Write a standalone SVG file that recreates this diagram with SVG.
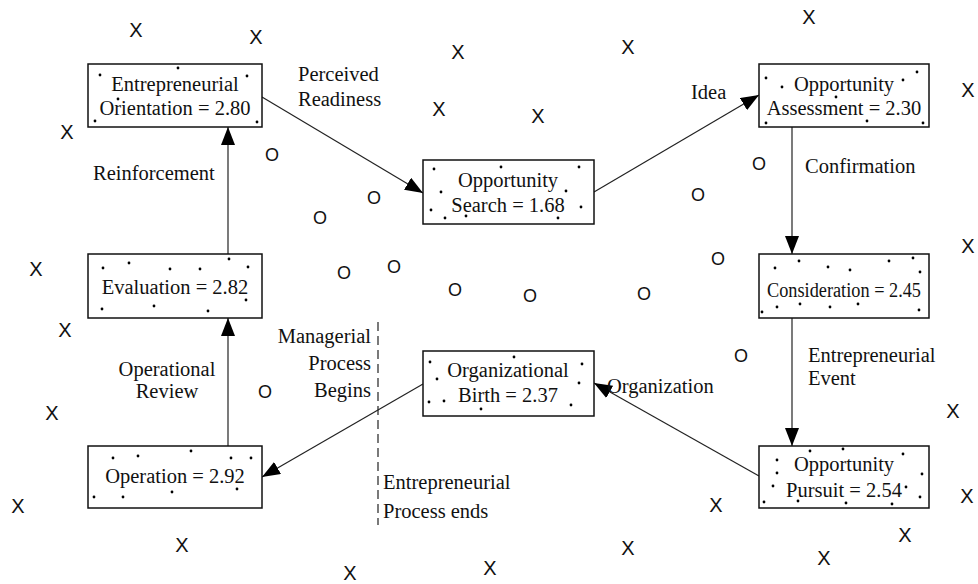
<svg xmlns="http://www.w3.org/2000/svg" width="978" height="584" viewBox="0 0 978 584">
<style>
.box{fill:#fff;stroke:#111;stroke-width:1.5}
.t{font-family:"Liberation Serif","Times New Roman",serif;font-size:20.5px;fill:#111}
.c{text-anchor:middle}
.r{text-anchor:end}
.m{font-family:"Liberation Sans",Arial,sans-serif;font-size:20px;fill:#111;text-anchor:middle}
.o{font-family:"Liberation Sans",Arial,sans-serif;font-size:18px;fill:#111;text-anchor:middle}
.d{fill:#000}
.ln{stroke:#222;stroke-width:1.2;fill:none}
</style>
<defs>
<marker id="ah" markerUnits="userSpaceOnUse" viewBox="0 0 18 14" refX="18" refY="7" markerWidth="18" markerHeight="14" orient="auto">
<path d="M0,0 L18,7 L0,14 z" fill="#000"/>
</marker>
</defs>
<rect width="978" height="584" fill="#fff"/>

<g id="marks">
<text class="m" x="136" y="37">X</text>
<text class="m" x="256" y="44">X</text>
<text class="m" x="458" y="59">X</text>
<text class="m" x="628" y="54">X</text>
<text class="m" x="809" y="24">X</text>
<text class="m" x="67" y="139">X</text>
<text class="m" x="439" y="116">X</text>
<text class="m" x="538" y="123">X</text>
<text class="m" x="968" y="97">X</text>
<text class="m" x="36" y="276">X</text>
<text class="m" x="968" y="253">X</text>
<text class="m" x="65" y="337">X</text>
<text class="m" x="52" y="420">X</text>
<text class="m" x="953" y="418">X</text>
<text class="m" x="18" y="513">X</text>
<text class="m" x="716" y="512">X</text>
<text class="m" x="967" y="503">X</text>
<text class="m" x="182" y="552">X</text>
<text class="m" x="905" y="542">X</text>
<text class="m" x="350" y="580">X</text>
<text class="m" x="490" y="575">X</text>
<text class="m" x="628" y="555">X</text>
<text class="m" x="824" y="565">X</text>
<text class="o" x="272" y="161">O</text>
<text class="o" x="374" y="204">O</text>
<text class="o" x="320" y="224">O</text>
<text class="o" x="344" y="279">O</text>
<text class="o" x="394" y="273">O</text>
<text class="o" x="455" y="296">O</text>
<text class="o" x="530" y="302">O</text>
<text class="o" x="644" y="300">O</text>
<text class="o" x="698" y="201">O</text>
<text class="o" x="759" y="170">O</text>
<text class="o" x="718" y="265">O</text>
<text class="o" x="741" y="362">O</text>
<text class="o" x="265" y="398">O</text>
</g>

<g id="connectors">
<line class="ln" x1="262" y1="97" x2="423" y2="193" marker-end="url(#ah)"/>
<line class="ln" x1="594" y1="192" x2="759" y2="95" marker-end="url(#ah)"/>
<line class="ln" x1="792" y1="127" x2="792" y2="254" marker-end="url(#ah)"/>
<line class="ln" x1="792" y1="318" x2="792" y2="446" marker-end="url(#ah)"/>
<line class="ln" x1="759" y1="476" x2="594" y2="383" marker-end="url(#ah)"/>
<line class="ln" x1="423" y1="384" x2="262" y2="477" marker-end="url(#ah)"/>
<line class="ln" x1="228" y1="446" x2="228" y2="318" marker-end="url(#ah)"/>
<line class="ln" x1="228" y1="254" x2="228" y2="127" marker-end="url(#ah)"/>
<line x1="378" y1="322" x2="378" y2="525" stroke="#222" stroke-width="1.2" stroke-dasharray="9,5"/>
</g>

<g id="labels">
<text class="t" x="298" y="81">Perceived</text>
<text class="t" x="298" y="106">Readiness</text>
<text class="t" x="691" y="99">Idea</text>
<text class="t" x="805" y="173">Confirmation</text>
<text class="t" x="808" y="362">Entrepreneurial</text>
<text class="t" x="808" y="385">Event</text>
<text class="t" x="607" y="393">Organization</text>
<text class="t" x="93" y="180">Reinforcement</text>
<text class="t c" x="167" y="376">Operational</text>
<text class="t c" x="167" y="398">Review</text>
<text class="t r" x="371" y="343">Managerial</text>
<text class="t r" x="371" y="370">Process</text>
<text class="t r" x="371" y="397">Begins</text>
<text class="t" x="383" y="489">Entrepreneurial</text>
<text class="t" x="383" y="518">Process ends</text>
</g>

<g id="n-orientation">
<rect class="box" x="88" y="64" width="174" height="63"/>
<text class="t c" x="175" y="91">Entrepreneurial</text>
<text class="t c" x="175" y="115">Orientation = 2.80</text>
<g class="d"><circle cx="100" cy="75" r="1.4"/><circle cx="178" cy="68" r="1.4"/><circle cx="247" cy="76" r="1.4"/><circle cx="118" cy="99" r="1.4"/><circle cx="95" cy="121" r="1.4"/><circle cx="257" cy="122" r="1.4"/></g>
</g>

<g id="n-search">
<rect class="box" x="423" y="160" width="171" height="64"/>
<text class="t c" x="508" y="187">Opportunity</text>
<text class="t c" x="508" y="212">Search = 1.68</text>
<g class="d"><circle cx="434" cy="169" r="1.4"/><circle cx="501" cy="167" r="1.4"/><circle cx="579" cy="167" r="1.4"/><circle cx="441" cy="192" r="1.4"/><circle cx="566" cy="191" r="1.4"/><circle cx="431" cy="210" r="1.4"/><circle cx="445" cy="218" r="1.4"/><circle cx="466" cy="216" r="1.4"/><circle cx="581" cy="207" r="1.4"/><circle cx="558" cy="218" r="1.4"/></g>
</g>

<g id="n-assessment">
<rect class="box" x="759" y="64" width="170" height="63"/>
<text class="t c" x="844" y="91">Opportunity</text>
<text class="t c" x="844" y="115">Assessment = 2.30</text>
<g class="d"><circle cx="766" cy="78" r="1.4"/><circle cx="782" cy="87" r="1.4"/><circle cx="836" cy="97" r="1.4"/><circle cx="903" cy="80" r="1.4"/><circle cx="917" cy="72" r="1.4"/><circle cx="766" cy="123" r="1.4"/><circle cx="867" cy="121" r="1.4"/><circle cx="923" cy="123" r="1.4"/></g>
</g>

<g id="n-consideration">
<rect class="box" x="759" y="254" width="170" height="64"/>
<text class="t c" x="844" y="297" textLength="154" lengthAdjust="spacingAndGlyphs">Consideration = 2.45</text>
<g class="d"><circle cx="775" cy="268" r="1.4"/><circle cx="799" cy="261" r="1.4"/><circle cx="828" cy="267" r="1.4"/><circle cx="850" cy="270" r="1.4"/><circle cx="889" cy="261" r="1.4"/><circle cx="913" cy="258" r="1.4"/><circle cx="920" cy="272" r="1.4"/><circle cx="777" cy="307" r="1.4"/><circle cx="800" cy="304" r="1.4"/><circle cx="830" cy="307" r="1.4"/><circle cx="858" cy="304" r="1.4"/><circle cx="762" cy="312" r="1.4"/><circle cx="919" cy="310" r="1.4"/></g>
</g>

<g id="n-pursuit">
<rect class="box" x="759" y="446" width="170" height="62"/>
<text class="t c" x="844" y="471">Opportunity</text>
<text class="t c" x="844" y="497">Pursuit = 2.54</text>
<g class="d"><circle cx="810" cy="451" r="1.4"/><circle cx="843" cy="449" r="1.4"/><circle cx="903" cy="454" r="1.4"/><circle cx="777" cy="460" r="1.4"/><circle cx="777" cy="473" r="1.4"/><circle cx="922" cy="474" r="1.4"/><circle cx="773" cy="486" r="1.4"/><circle cx="906" cy="487" r="1.4"/><circle cx="920" cy="497" r="1.4"/><circle cx="764" cy="502" r="1.4"/><circle cx="798" cy="501" r="1.4"/><circle cx="846" cy="503" r="1.4"/><circle cx="892" cy="504" r="1.4"/></g>
</g>

<g id="n-birth">
<rect class="box" x="423" y="351" width="171" height="65"/>
<text class="t c" x="508" y="377">Organizational</text>
<text class="t c" x="508" y="402">Birth = 2.37</text>
<g class="d"><circle cx="430" cy="362" r="1.4"/><circle cx="514" cy="357" r="1.4"/><circle cx="582" cy="364" r="1.4"/><circle cx="437" cy="379" r="1.4"/><circle cx="579" cy="383" r="1.4"/><circle cx="429" cy="402" r="1.4"/><circle cx="444" cy="401" r="1.4"/><circle cx="481" cy="409" r="1.4"/><circle cx="571" cy="405" r="1.4"/></g>
</g>

<g id="n-evaluation">
<rect class="box" x="88" y="254" width="174" height="64"/>
<text class="t c" x="175" y="294">Evaluation = 2.82</text>
<g class="d"><circle cx="103" cy="268" r="1.4"/><circle cx="129" cy="263" r="1.4"/><circle cx="170" cy="269" r="1.4"/><circle cx="200" cy="269" r="1.4"/><circle cx="229" cy="259" r="1.4"/><circle cx="248" cy="267" r="1.4"/><circle cx="246" cy="300" r="1.4"/><circle cx="102" cy="309" r="1.4"/><circle cx="154" cy="306" r="1.4"/><circle cx="208" cy="311" r="1.4"/></g>
</g>

<g id="n-operation">
<rect class="box" x="88" y="446" width="174" height="62"/>
<text class="t c" x="175" y="483">Operation = 2.92</text>
<g class="d"><circle cx="113" cy="458" r="1.4"/><circle cx="138" cy="456" r="1.4"/><circle cx="191" cy="451" r="1.4"/><circle cx="231" cy="458" r="1.4"/><circle cx="251" cy="458" r="1.4"/><circle cx="237" cy="489" r="1.4"/><circle cx="172" cy="492" r="1.4"/><circle cx="94" cy="497" r="1.4"/><circle cx="123" cy="497" r="1.4"/></g>
</g>
</svg>
